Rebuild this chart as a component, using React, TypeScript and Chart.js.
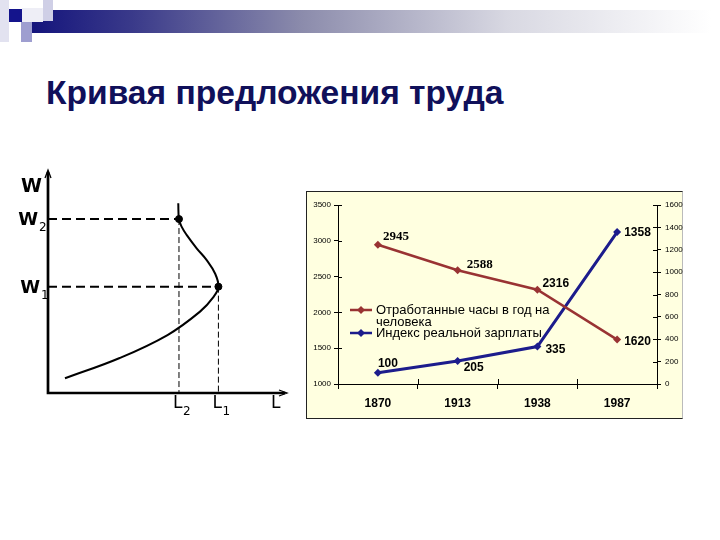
import React, { useEffect, useRef } from "react";
import { Chart, registerables } from "chart.js";

Chart.register(...registerables);

// ---------- Right chart data ----------
const years = ["1870", "1913", "1938", "1987"];
const hoursWorked = [2945, 2588, 2316, 1620];
const wageIndex = [100, 205, 335, 1358];
const hoursAxis = { min: 1000, max: 3500, step: 500 };
const wageAxis = { min: 0, max: 1600, step: 200 };
const hoursLegend = ["Отработанные часы в год на", "человека"];
const wageLegend = "Индекс реальной зарплаты";

// ---------- Left diagram data (backward-bending labour supply) ----------
const supplyL = [0.71, 3.0, 5.0, 6.36, 6.92, 7.13, 6.99, 6.64, 6.22, 5.8, 5.59, 5.48, 5.45];
const supplyW = [0.66, 1.57, 2.6, 3.65, 4.3, 4.77, 5.36, 5.96, 6.49, 7.09, 7.46, 7.8, 8.51];
const L1 = 7.13;
const L2 = 5.48;
const W1 = 4.77;
const W2 = 7.8;

// ---------- styles ----------
const RED = "#993333";
const BLUE = "#1c1c8c";
const SANS = "'Liberation Sans', Arial, sans-serif";
const SERIF = "'Liberation Serif', 'Times New Roman', serif";
const DEJAVU = "'DejaVu Sans', Verdana, sans-serif";
// label placement (dx, dy from point) and font per data label
const hoursLabelStyle = [
  { dx: 5, dy: -8, font: `bold 13px ${SERIF}` },
  { dx: 9, dy: -6, font: `bold 13px ${SERIF}` },
  { dx: 5, dy: -6, font: `bold 12px ${SANS}` },
  { dx: 7, dy: 2, font: `bold 12px ${SANS}` },
];
const wageLabelStyle = [
  { dx: 0, dy: -9, font: `bold 12px ${SANS}` },
  { dx: 6, dy: 7, font: `bold 12px ${SANS}` },
  { dx: 8, dy: 3, font: `bold 12px ${SANS}` },
  { dx: 7, dy: 1, font: `bold 12px ${SANS}` },
];

function RightChart() {
  const ref = useRef<HTMLCanvasElement | null>(null);
  useEffect(() => {
    if (!ref.current) return;
    const dataLabels = {
      id: "dataLabels",
      afterDatasetsDraw(chart: any) {
        const ctx = chart.ctx;
        ctx.save();
        ctx.fillStyle = "#000";
        ctx.textBaseline = "middle";
        ctx.textAlign = "left";
        const sets = [
          { idx: 0, vals: hoursWorked, st: hoursLabelStyle },
          { idx: 1, vals: wageIndex, st: wageLabelStyle },
        ];
        sets.forEach(({ idx, vals, st }) => {
          const meta = chart.getDatasetMeta(idx);
          meta.data.forEach((pt: any, i: number) => {
            ctx.font = st[i].font;
            ctx.fillText(String(vals[i]), pt.x + st[i].dx, pt.y + st[i].dy);
          });
        });
        ctx.restore();
      },
    };
    const innerTicks = {
      id: "innerTicks",
      afterDraw(chart: any) {
        const { ctx } = chart;
        const { x, y, y1 } = chart.scales;
        ctx.save();
        ctx.strokeStyle = "#000";
        ctx.lineWidth = 1;
        const line = (a: number, b: number, c: number, d: number) => {
          ctx.beginPath();
          ctx.moveTo(a, b);
          ctx.lineTo(c, d);
          ctx.stroke();
        };
        y.ticks.forEach((_t: any, i: number) => {
          const py = Math.round(y.getPixelForTick(i)) + 0.5;
          line(y.right, py, y.right + 4, py);
        });
        y1.ticks.forEach((_t: any, i: number) => {
          const py = Math.round(y1.getPixelForTick(i)) + 0.5;
          line(y1.left - 4, py, y1.left, py);
        });
        for (let i = 1; i < years.length; i++) {
          const px = Math.round((x.getPixelForValue(i - 1) + x.getPixelForValue(i)) / 2) + 0.5;
          line(px, x.top - 5, px, x.top);
        }
        ctx.restore();
      },
    };
    const legendPlugin = {
      id: "customLegend",
      afterDraw(chart: any) {
        const { ctx, chartArea } = chart;
        const x0 = chartArea.left + 12;
        const top = chartArea.top;
        const rows = [
          { color: RED, y: top + 105, text: hoursLegend[0] },
          { color: null, y: top + 117, text: hoursLegend[1] },
          { color: BLUE, y: top + 128, text: wageLegend },
        ];
        ctx.save();
        rows.forEach((r) => {
          if (r.color) {
            ctx.strokeStyle = r.color;
            ctx.lineWidth = 2.5;
            ctx.beginPath();
            ctx.moveTo(x0, r.y);
            ctx.lineTo(x0 + 22, r.y);
            ctx.stroke();
            ctx.fillStyle = r.color;
            ctx.beginPath();
            ctx.moveTo(x0 + 11, r.y - 4);
            ctx.lineTo(x0 + 15, r.y);
            ctx.lineTo(x0 + 11, r.y + 4);
            ctx.lineTo(x0 + 7, r.y);
            ctx.closePath();
            ctx.fill();
          }
          ctx.fillStyle = "#000";
          ctx.font = `13px ${SANS}`;
          ctx.textBaseline = "middle";
          ctx.fillText(r.text, x0 + 26, r.y);
        });
        ctx.restore();
      },
    };
    const chart = new Chart(ref.current, {
      type: "line",
      data: {
        labels: years,
        datasets: [
          {
            label: hoursLegend.join(" "),
            data: hoursWorked,
            yAxisID: "y",
            borderColor: RED,
            backgroundColor: RED,
            borderWidth: 2.5,
            pointStyle: "rectRot",
            pointRadius: 4,
            pointBorderWidth: 0,
            tension: 0,
          },
          {
            label: wageLegend,
            data: wageIndex,
            yAxisID: "y1",
            borderColor: BLUE,
            backgroundColor: BLUE,
            borderWidth: 3,
            pointStyle: "rectRot",
            pointRadius: 4,
            pointBorderWidth: 0,
            tension: 0,
          },
        ],
      },
      options: {
        animation: false,
        responsive: false,
        layout: { padding: { top: 14, left: 0, right: 0, bottom: 0 } },
        plugins: { legend: { display: false }, tooltip: { enabled: false } },
        scales: {
          x: {
            type: "category",
            offset: true,
            grid: { display: true, offset: true, drawOnChartArea: false, tickLength: 5, color: "#000" },
            border: { display: true, color: "#000", width: 1 },
            ticks: { color: "#000", font: { family: SANS, size: 12, weight: "bold" }, padding: 7 },
            afterFit: (s: any) => {
              s.height = 35;
            },
          },
          y: {
            position: "left",
            min: hoursAxis.min,
            max: hoursAxis.max,
            grid: { display: true, drawOnChartArea: false, tickLength: 4, color: "#000" },
            border: { display: true, color: "#000", width: 1 },
            ticks: {
              stepSize: hoursAxis.step,
              color: "#000",
              font: { family: SANS, size: 8 },
              padding: 3,
              callback: (v: any) => String(v),
            },
            afterFit: (s: any) => {
              s.width = 32;
            },
          },
          y1: {
            position: "right",
            min: wageAxis.min,
            max: wageAxis.max,
            grid: { display: true, drawOnChartArea: false, tickLength: 4, color: "#000" },
            border: { display: true, color: "#000", width: 1 },
            ticks: {
              stepSize: wageAxis.step,
              color: "#000",
              font: { family: SANS, size: 8 },
              padding: 4,
              callback: (v: any) => String(v),
            },
            afterFit: (s: any) => {
              s.width = 31;
            },
          },
        },
      },
      plugins: [dataLabels, innerTicks, legendPlugin],
    } as any);
    return () => chart.destroy();
  }, []);
  return (
    <canvas
      ref={ref}
      width={382}
      height={228}
      style={{ position: "absolute", left: 306, top: 191, width: 382, height: 228 }}
    />
  );
}

const LEFT_TOP = 150;

function LeftChart() {
  const ref = useRef<HTMLCanvasElement | null>(null);
  useEffect(() => {
    if (!ref.current) return;
    const axesPlugin = {
      id: "axesAndLabels",
      afterDatasetsDraw(chart: any) {
        const { ctx } = chart;
        const { x, y } = chart.scales;
        const x0 = x.getPixelForValue(0);
        const y0 = y.getPixelForValue(0);
        const xEnd = x.getPixelForValue(10);
        const yEnd = y.getPixelForValue(10);
        ctx.save();
        ctx.strokeStyle = "#000";
        ctx.lineWidth = 2.7;
        ctx.lineCap = "butt";
        ctx.beginPath();
        ctx.moveTo(x0, y0 + 1.3);
        ctx.lineTo(x0, yEnd + 2);
        ctx.moveTo(x0 - 1.3, y0);
        ctx.lineTo(xEnd - 2, y0);
        ctx.stroke();
        // arrowheads
        ctx.lineWidth = 1.3;
        ctx.beginPath();
        ctx.moveTo(x0 - 3, yEnd + 8);
        ctx.lineTo(x0, yEnd);
        ctx.lineTo(x0 + 3, yEnd + 8);
        ctx.moveTo(xEnd - 8, y0 - 3);
        ctx.lineTo(xEnd, y0);
        ctx.lineTo(xEnd - 8, y0 + 3);
        ctx.stroke();
        ctx.fillStyle = "#000";
        ctx.textBaseline = "alphabetic";
        // W labels
        const wLabel = (txt: string, sub: string, right: number, base: number, size: number) => {
          ctx.font = `bold ${size}px ${DEJAVU}`;
          ctx.textAlign = "right";
          ctx.fillText(txt, right, base);
          if (sub) {
            ctx.font = `12px ${DEJAVU}`;
            ctx.textAlign = "left";
            ctx.fillText(sub, right + 1, base + 6);
          }
        };
        wLabel("W", "", 42, 192 - LEFT_TOP, 19);
        wLabel("W", "2", 38, y.getPixelForValue(W2) + 6, 18);
        wLabel("W", "1", 40, y.getPixelForValue(W1) + 6, 18);
        // L labels
        const lLabel = (sub: string, left: number) => {
          ctx.font = `17px ${DEJAVU}`;
          ctx.textAlign = "left";
          ctx.fillText("L", left, 408 - LEFT_TOP);
          if (sub) {
            ctx.font = `12px ${DEJAVU}`;
            ctx.fillText(sub, left + 10, 415 - LEFT_TOP);
          }
        };
        lLabel("2", x.getPixelForValue(L2) - 6);
        lLabel("1", x.getPixelForValue(L1) - 6);
        lLabel("", 271);
        ctx.restore();
      },
    };
    const chart = new Chart(ref.current, {
      type: "scatter",
      data: {
        datasets: [
          {
            data: supplyL.map((l, i) => ({ x: l, y: supplyW[i] })),
            showLine: true,
            tension: 0.4,
            borderColor: "#000",
            borderWidth: 2,
            pointRadius: 0,
          },
          {
            data: [
              { x: 0, y: W2 },
              { x: L2, y: W2 },
            ],
            showLine: true,
            borderColor: "#000",
            borderWidth: 2,
            borderDash: [9, 5],
            pointRadius: 0,
          },
          {
            data: [
              { x: 0, y: W1 },
              { x: L1, y: W1 },
            ],
            showLine: true,
            borderColor: "#000",
            borderWidth: 2,
            borderDash: [9, 5],
            pointRadius: 0,
          },
          {
            data: [
              { x: L2, y: W2 },
              { x: L2, y: 0 },
            ],
            showLine: true,
            borderColor: "#000",
            borderWidth: 1,
            borderDash: [6, 3],
            pointRadius: 0,
          },
          {
            data: [
              { x: L1, y: W1 },
              { x: L1, y: 0 },
            ],
            showLine: true,
            borderColor: "#000",
            borderWidth: 1,
            borderDash: [6, 3],
            pointRadius: 0,
          },
          {
            data: [
              { x: L2, y: W2 },
              { x: L1, y: W1 },
            ],
            showLine: false,
            backgroundColor: "#000",
            borderColor: "#000",
            pointRadius: 3.5,
          },
        ],
      },
      options: {
        animation: false,
        responsive: false,
        layout: { padding: { left: 48, top: 20, right: 13, bottom: 37 } },
        plugins: { legend: { display: false }, tooltip: { enabled: false } },
        scales: {
          x: { type: "linear", min: 0, max: 10, display: false },
          y: { type: "linear", min: 0, max: 10, display: false },
        },
      },
      plugins: [axesPlugin],
    } as any);
    return () => chart.destroy();
  }, []);
  return (
    <canvas
      ref={ref}
      width={300}
      height={280}
      style={{ position: "absolute", left: 0, top: LEFT_TOP, width: 300, height: 280 }}
    />
  );
}

export default function App() {
  const box = (s: React.CSSProperties) => <div style={{ position: "absolute", ...s }} />;
  return (
    <div
      style={{
        position: "fixed",
        left: 0,
        top: 0,
        width: 720,
        height: 540,
        background: "#fff",
        overflow: "hidden",
        fontFamily: SANS,
      }}
    >
      {box({ left: 31, top: 10, width: 680, height: 23, background: "linear-gradient(to right, #14147c 0%, #3a3a8a 15%, #8c8cac 40%, #d8d8e2 70%, #ffffff 100%)" })}
      {box({ left: 0, top: 0, width: 9, height: 42, background: "#e2e2f0" })}
      {box({ left: 22, top: 8, width: 21, height: 14, background: "#eeeef6" })}
      {box({ left: 43, top: 0, width: 10, height: 21, background: "#cfcfe6" })}
      {box({ left: 9, top: 9, width: 13, height: 13, background: "#14148c" })}
      {box({ left: 21, top: 22, width: 11, height: 20, background: "#9e9ed0" })}
      <div
        style={{
          position: "absolute",
          left: 46,
          top: 76,
          fontSize: 33.6,
          lineHeight: 1,
          fontWeight: "bold",
          color: "#10105a",
          whiteSpace: "nowrap",
          fontFamily: SANS,
        }}
      >
        Кривая предложения труда
      </div>
      <LeftChart />
      <div
        style={{
          position: "absolute",
          left: 306,
          top: 191,
          width: 375,
          height: 226,
          background: "#ffffe0",
          border: "1px solid #222",
          borderRightColor: "#bbb",
        }}
      />
      <RightChart />
    </div>
  );
}
